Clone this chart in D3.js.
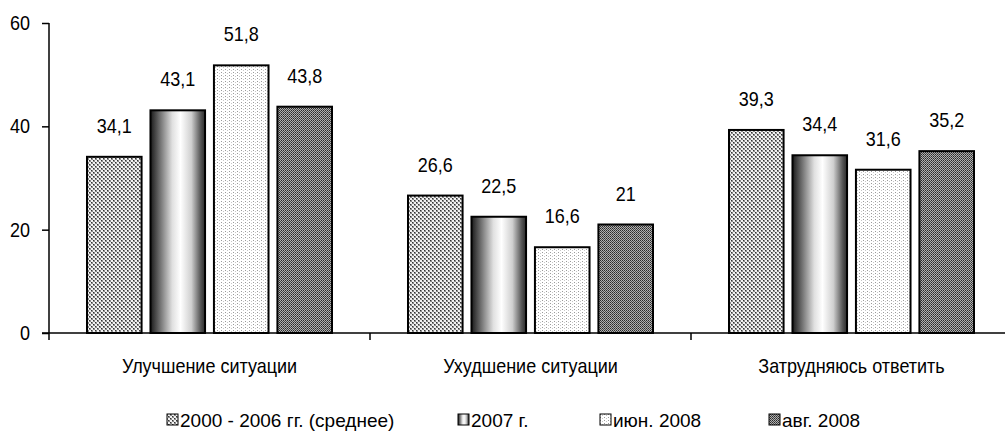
<!DOCTYPE html>
<html>
<head>
<meta charset="utf-8">
<script src="https://cdn.jsdelivr.net/npm/d3@7"></script>
<style>
  body { margin: 0; background: #fff; }
  svg { display: block; }
  text { font-family: "Liberation Sans", Arial, sans-serif; fill: #000; }
</style>
</head>
<body>
<svg id="chart" width="1005" height="432"></svg>
<script>
const categories = ["Улучшение ситуации", "Ухудшение ситуации", "Затрудняюсь ответить"];
const seriesNames = ["2000 - 2006 гг. (среднее)", "2007 г.", "июн. 2008", "авг. 2008"];
const s2000_2006 = [34.1, 26.6, 39.3];
const s2007 = [43.1, 22.5, 34.4];
const sJun2008 = [51.8, 16.6, 31.6];
const sAug2008 = [43.8, 21, 35.2];
const yTicks = [0, 20, 40, 60];

const seriesValues = [s2000_2006, s2007, sJun2008, sAug2008];
const fills = ["url(#p-check)", "url(#g-cyl)", "url(#p-dots)", "url(#p-dense)"];

const svg = d3.select("#chart");
const defs = svg.append("defs");

// text placed via translate, optionally squeezed horizontally
function narrowText(sel, x, y, str, size, anchor, sx) {
  return sel.append("text")
    .attr("transform", `translate(${x},${y}) scale(${sx || 0.9},1)`)
    .attr("text-anchor", anchor || "start")
    .style("font-size", size + "px")
    .text(str);
}

// crosshatch / checker
const p1 = defs.append("pattern").attr("id", "p-check").attr("patternUnits", "userSpaceOnUse")
  .attr("width", 4).attr("height", 4);
p1.append("rect").attr("width", 4).attr("height", 4).attr("fill", "#f2f2f2");
p1.append("rect").attr("x", 0).attr("y", 0).attr("width", 2).attr("height", 2).attr("fill", "#8a8a8a");
p1.append("rect").attr("x", 2).attr("y", 2).attr("width", 2).attr("height", 2).attr("fill", "#8a8a8a");
p1.append("rect").attr("x", 0).attr("y", 0).attr("width", 1).attr("height", 1).attr("fill", "#333");
p1.append("rect").attr("x", 2).attr("y", 2).attr("width", 1).attr("height", 1).attr("fill", "#333");

// cylinder gradient
const g = defs.append("linearGradient").attr("id", "g-cyl").attr("x1", "0%").attr("x2", "100%");
[["0%", "#1a1a1a"], ["12%", "#555"], ["40%", "#e0e0e0"], ["55%", "#ffffff"], ["75%", "#cfcfcf"], ["92%", "#555"], ["100%", "#2a2a2a"]]
  .forEach(s => g.append("stop").attr("offset", s[0]).attr("stop-color", s[1]));

// light dots
const p3 = defs.append("pattern").attr("id", "p-dots").attr("patternUnits", "userSpaceOnUse")
  .attr("width", 4).attr("height", 3);
p3.append("rect").attr("width", 4).attr("height", 3).attr("fill", "#fff");
p3.append("rect").attr("x", 0).attr("y", 0).attr("width", 1).attr("height", 1).attr("fill", "#9a9a9a");
p3.append("rect").attr("x", 2).attr("y", 1).attr("width", 1).attr("height", 1).attr("fill", "#c8c8c8");

// dense dark
const p4 = defs.append("pattern").attr("id", "p-dense").attr("patternUnits", "userSpaceOnUse")
  .attr("width", 2).attr("height", 2);
p4.append("rect").attr("width", 2).attr("height", 2).attr("fill", "#b0b0b0");
p4.append("rect").attr("x", 0).attr("y", 0).attr("width", 1).attr("height", 1).attr("fill", "#2a2a2a");
p4.append("rect").attr("x", 1).attr("y", 1).attr("width", 1).attr("height", 1).attr("fill", "#4a4a4a");

const x0 = d3.scaleBand().domain(categories).range([49, 1012]).padding(0);
const x1 = d3.scaleBand().domain(d3.range(4)).range([38, 283]).paddingInner(0.14);
const y = d3.scaleLinear().domain([0, 60]).range([333, 23]);

// bars
categories.forEach((c, ci) => {
  const grp = svg.append("g").attr("transform", `translate(${x0(c)},0)`);
  seriesValues.forEach((vals, si) => {
    grp.append("rect")
      .attr("x", x1(si))
      .attr("y", y(vals[ci]))
      .attr("width", x1.bandwidth())
      .attr("height", y(0) - y(vals[ci]))
      .attr("fill", fills[si])
      .attr("stroke", "#000")
      .attr("stroke-width", 2);
    narrowText(grp, x1(si) + x1.bandwidth() / 2, y(vals[ci]) - 24,
      String(vals[ci]).replace(".", ","), 20, "middle");
  });
});

// y axis
const yAxis = svg.append("g").attr("transform", "translate(49,0)")
  .call(d3.axisLeft(y).tickValues(yTicks).tickSize(7).tickFormat(""));
yAxis.select(".domain").attr("d", `M0,${y(60)}V${y(0) + 7}`).attr("stroke", "#000").attr("stroke-width", 1.5);
yAxis.selectAll(".tick line").attr("stroke", "#000").attr("stroke-width", 1.5);
yTicks.forEach(t => narrowText(yAxis, -19, y(t) + 7, t, 20, "end"));

// x axis
const xAxis = svg.append("g").attr("transform", `translate(0,${y(0)})`);
xAxis.append("line").attr("x1", 42).attr("x2", 1012).attr("stroke", "#000").attr("stroke-width", 1.5);
categories.slice(1).forEach(c => {
  xAxis.append("line").attr("x1", x0(c)).attr("x2", x0(c)).attr("y1", 0).attr("y2", 7)
    .attr("stroke", "#000").attr("stroke-width", 1.5);
});
categories.forEach(c => {
  narrowText(xAxis, x0(c) + x0.bandwidth() / 2, 40, c, 20, "middle");
});

// legend
const legendX = [167, 458, 600, 769];
const legend = svg.append("g");
seriesNames.forEach((n, i) => {
  legend.append("rect")
    .attr("x", legendX[i]).attr("y", 414)
    .attr("width", 11).attr("height", 11)
    .attr("fill", fills[i]).attr("stroke", "#000").attr("stroke-width", 1);
  narrowText(legend, legendX[i] + 13, 427, n, 19, "start", 1);
});
</script>
</body>
</html>
